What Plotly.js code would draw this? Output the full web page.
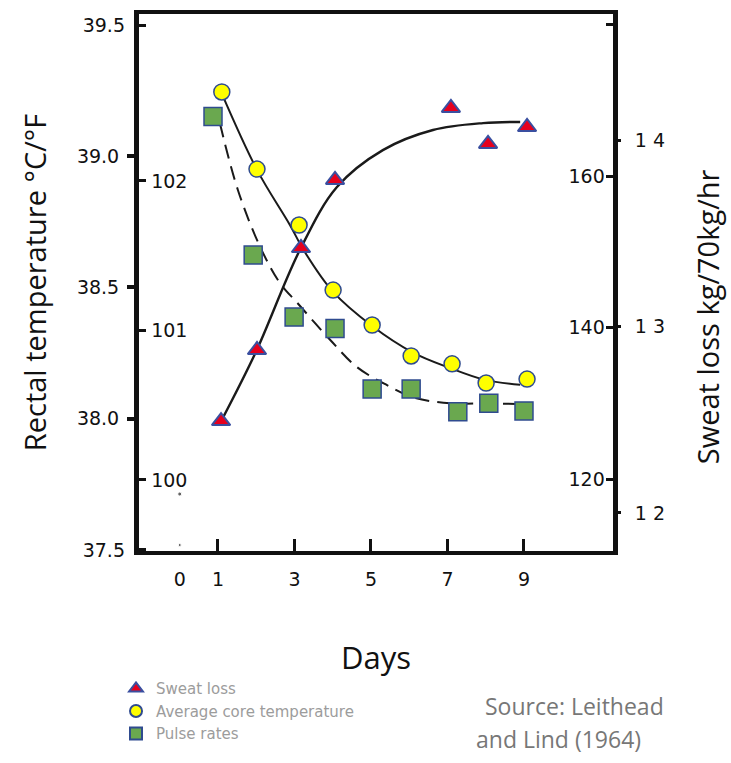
<!DOCTYPE html>
<html>
<head>
<meta charset="utf-8">
<script src="https://cdn.plot.ly/plotly-3.0.1.min.js"></script>
<style>
  html, body { margin: 0; padding: 0; background: #ffffff; }
  #chart { width: 731px; height: 763px; }
</style>
</head>
<body>
<div id="chart"></div>
<script>
// ---- Data ----
// Day axis tick labels
const dayTicks = [0, 1, 3, 5, 7, 9];
const dayInnerTicks = [1, 3, 5, 7, 9];

// Average core temperature (°C, left axis) – measured points
const coreDays = [1.10, 2.02, 3.12, 4.01, 5.03, 6.05, 7.12, 8.01, 9.08];
const coreTemp = [39.245, 38.951, 38.738, 38.490, 38.357, 38.239, 38.209, 38.136, 38.151];
// Fitted curve through core temperature
const coreFitDays = [1.08, 2.02, 2.88, 3.27, 4.01, 5.03, 6.07, 7.07, 7.98, 8.90];
const coreFitTemp = [39.245, 38.948, 38.738, 38.635, 38.483, 38.353, 38.254, 38.193, 38.148, 38.129];

// Pulse rates (beats/min, inner right axis)
const pulseDays = [0.87, 1.92, 2.99, 4.06, 5.03, 6.05, 7.27, 8.08, 9.00];
const pulseRate = [167.9, 149.6, 141.4, 139.9, 131.9, 131.9, 128.9, 130.0, 129.0];
// Dashed fitted curve through pulse rates
const pulseFitDays = [1.05, 1.52, 2.10, 2.62, 3.07, 3.93, 4.63, 5.42, 6.10, 7.07, 8.03, 8.90];
const pulseFitRate = [167.0, 158.2, 150.7, 145.9, 143.3, 138.4, 134.8, 132.4, 130.8, 130.0, 130.0, 129.9];

// Sweat loss (kg/70kg/hr, outer right axis)
const sweatDays = [1.08, 2.02, 3.17, 4.06, 7.09, 8.06, 9.08];
const sweatLoss = [1.2493, 1.2874, 1.3421, 1.3786, 1.4172, 1.3979, 1.4070];
// Fitted curve through sweat loss
const sweatFitDays = [1.10, 1.99, 3.14, 4.11, 5.31, 6.62, 7.93, 8.90];
const sweatFitLoss = [1.2499, 1.2863, 1.3410, 1.3748, 1.3946, 1.4054, 1.4091, 1.4097];

// Stray dots at day 0 in the original figure (read against the °F scale)
const strayDays = [0, 0];
const strayTempF = [99.906, 99.565];

// Axis tick values / labels
const celsiusTicks = [38.0, 38.5, 39.0];
const celsiusTickText = ["38.0", "38.5", "39.0"];
const celsiusEndTicks = [37.5, 39.5];
const celsiusEndText = ["37.5", "39.5"];
const fahrenheitTicks = [100, 101, 102];
const pulseTicks = [120, 140, 160, 180];
const sweatTicks = [1.2, 1.3, 1.4];
const sweatTickText = ["1 2", "1 3", "1 4"];

// ---- Styling ----
const tickFont = { family: "DejaVu Sans, Liberation Sans, sans-serif", size: 19, color: "#111111" };
const titleFont = { family: "Open Sans, Noto Sans, sans-serif", size: 29, color: "#111111" };
const markerLine = { color: "#2f4b8f", width: 1.5 };

const xRange = [-1.065, 11.327];
const cRange = [37.496, 39.542];

const traces = [
  { x: sweatFitDays, y: sweatFitLoss, yaxis: "y3", mode: "lines", line: { color: "#1a1a1a", width: 2.4, shape: "spline", smoothing: 1 }, showlegend: false, hoverinfo: "skip" },
  { x: coreFitDays, y: coreFitTemp, yaxis: "y", mode: "lines", line: { color: "#1a1a1a", width: 2, shape: "spline", smoothing: 1 }, showlegend: false, hoverinfo: "skip" },
  { x: pulseFitDays, y: pulseFitRate, yaxis: "y2", mode: "lines", line: { color: "#1a1a1a", width: 2, shape: "spline", smoothing: 1, dash: "14px,8px" }, showlegend: false, hoverinfo: "skip" },
  { x: strayDays, y: strayTempF, xaxis: "x2", yaxis: "y4", mode: "markers", marker: { color: "#222", size: [4, 3] }, showlegend: false, hoverinfo: "skip" },
  { x: [], y: [], yaxis: "y5", mode: "markers", showlegend: false, hoverinfo: "skip" },
  { name: "Sweat loss", x: sweatDays, y: sweatLoss, yaxis: "y3", mode: "markers",
    marker: { symbol: "triangle-up", size: 16, color: "#e6001e", line: { color: "#3a4fa0", width: 2 } } },
  { name: "Average core temperature", x: coreDays, y: coreTemp, yaxis: "y", mode: "markers",
    marker: { symbol: "circle", size: 16, color: "#ffff00", line: markerLine } },
  { name: "Pulse rates", x: pulseDays, y: pulseRate, yaxis: "y2", mode: "markers",
    marker: { symbol: "square", size: 18, color: "#6aa84f", line: markerLine } }
];

const layout = {
  width: 731, height: 763,
  margin: { l: 139, r: 118, t: 14, b: 212 },
  paper_bgcolor: "#ffffff", plot_bgcolor: "#ffffff",
  showlegend: true,
  legend: {
    x: -0.0485, y: -0.371, xanchor: "left", yanchor: "bottom",
    font: { family: "DejaVu Sans, sans-serif", size: 15, color: "#9c9c9c" },
    itemsizing: "constant", tracegroupgap: 0, bgcolor: "rgba(0,0,0,0)"
  },
  xaxis: {
    range: xRange, tickmode: "array", tickvals: dayTicks, ticktext: dayTicks.map(String),
    ticks: "", showgrid: false, zeroline: false, automargin: false,
    showline: true, linecolor: "#111", linewidth: 4, mirror: true,
    tickfont: tickFont, ticklabelstandoff: 8,
    title: { text: "Days", font: { family: "Open Sans, Noto Sans, sans-serif", size: 31, color: "#111" }, standoff: 60 }
  },
  xaxis2: {
    range: xRange, overlaying: "x", anchor: "y", side: "bottom", automargin: false,
    tickmode: "array", tickvals: dayInnerTicks, ticks: "inside", ticklen: 12, tickwidth: 3, tickcolor: "#111",
    showticklabels: false, showgrid: false, zeroline: false, showline: false
  },
  yaxis: {
    range: cRange, tickmode: "array", tickvals: celsiusTicks, ticktext: celsiusTickText,
    ticks: "outside", ticklen: 7, tickwidth: 4, tickcolor: "#111", automargin: false,
    showgrid: false, zeroline: false, showline: true, linecolor: "#111", linewidth: 5,
    tickfont: tickFont, ticklabelstandoff: 4,
    title: { text: "Rectal temperature °C/°F", font: titleFont, standoff: 23 }
  },
  yaxis5: {
    range: cRange, overlaying: "y", side: "left", anchor: "x", automargin: false,
    tickmode: "array", tickvals: celsiusEndTicks, ticktext: celsiusEndText,
    ticks: "inside", ticklen: 7, tickwidth: 3, tickcolor: "#111", ticklabelstandoff: 13,
    showgrid: false, zeroline: false, showline: false, tickfont: tickFont
  },
  yaxis4: {
    range: [99.525, 103.117], overlaying: "y", side: "left", anchor: "x", automargin: false,
    tickmode: "array", tickvals: fahrenheitTicks, ticktext: fahrenheitTicks.map(String),
    ticks: "inside", ticklen: 7, tickwidth: 3, tickcolor: "#111", ticklabelposition: "inside",
    ticklabelstandoff: 6,
    showgrid: false, zeroline: false, showline: false, tickfont: tickFont
  },
  yaxis2: {
    range: [110.49, 181.45], overlaying: "y", side: "right", anchor: "x", automargin: false,
    tickmode: "array", tickvals: pulseTicks, ticktext: pulseTicks.map(String),
    ticks: "inside", ticklen: 7, tickwidth: 3, tickcolor: "#111", ticklabelposition: "inside",
    ticklabelstandoff: 2,
    showgrid: false, zeroline: false, showline: true, linecolor: "#111", linewidth: 5,
    tickfont: tickFont
  },
  yaxis3: {
    range: [1.1796, 1.4676], overlaying: "y", side: "right", anchor: "x", automargin: false,
    tickmode: "array", tickvals: sweatTicks, ticktext: sweatTickText,
    ticks: "outside", ticklen: 7, tickwidth: 3, tickcolor: "#111",
    showgrid: false, zeroline: false, showline: false, tickfont: tickFont, ticklabelstandoff: 10
  },
  annotations: [
    { text: "Sweat loss kg/70kg/hr", xref: "paper", yref: "paper", x: 1.198, y: 0.437, xanchor: "center", yanchor: "middle",
      textangle: -90, showarrow: false, font: titleFont },
    { text: "Source: Leithead", xref: "paper", yref: "paper", x: 0.726, y: -0.289, xanchor: "left", yanchor: "middle",
      showarrow: false, font: { family: "Open Sans, Noto Sans, sans-serif", size: 23, color: "#777777" } },
    { text: "and Lind (1964)", xref: "paper", yref: "paper", x: 0.707, y: -0.35, xanchor: "left", yanchor: "middle",
      showarrow: false, font: { family: "Open Sans, Noto Sans, sans-serif", size: 23, color: "#777777" } }
  ]
};

Plotly.newPlot("chart", traces, layout, { displayModeBar: false, staticPlot: true });
</script>
</body>
</html>
